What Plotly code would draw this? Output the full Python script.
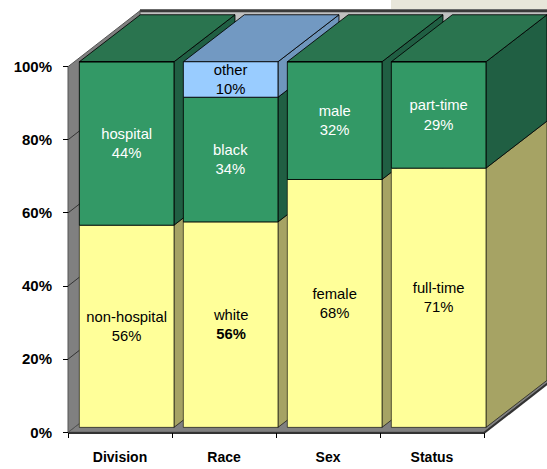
import plotly.graph_objects as go

# Data
categories = ["Division", "Race", "Sex", "Status"]
lower_values = [55.3, 56.2, 67.8, 70.9]
middle_values = [44.7, 34.1, 32.2, 29.1]
upper_values = [0, 9.7, 0, 0]
lower_labels = ["non-hospital<br>56%", "white<br><b>56%</b>", "female<br>68%", "full-time<br>71%"]
middle_labels = ["hospital<br>44%", "black<br>34%", "male<br>32%", "part-time<br>29%"]
upper_labels = ["", "other<br>10%", "", ""]
y_ticks = [0, 20, 40, 60, 80, 100]

W, H = 547, 469
X_PX, Y_PX = 104.0, 3.656
x_range = [-120 / X_PX, (W - 120) / X_PX]
y_range = [(432.3 - H) / Y_PX, 432.3 / Y_PX]

BAR_OFFSET, BAR_WIDTH = -0.391, 0.91
LIFT = 1.35               # front faces stand slightly above the axis baseline
DX, DY = 61 / X_PX, 47 / Y_PX     # bar depth
WX, WY = 72 / X_PX, 56 / Y_PX     # wall depth

LOWER_C, MIDDLE_C, UPPER_C = "#ffff99", "#339966", "#99ccff"
LOWER_S, MIDDLE_S, UPPER_S = "#a6a364", "#205f43", "#6f96bd"
MIDDLE_T, UPPER_T = "#2a744f", "#7299c2"
EDGE = "rgba(0,0,0,0.85)"
SOFT_EDGE = "rgba(0,0,0,0.6)"


def poly(points, fill, line=EDGE, width=1):
    path = "M" + "L".join(f"{x:.4f},{y:.4f}" for x, y in points) + "Z"
    return dict(type="path", path=path, xref="x", yref="y", layer="below",
                fillcolor=fill, line=dict(color=line, width=width))


shapes = [
    dict(type="rect", xref="paper", yref="paper", x0=391 / W, x1=1, y0=1 - 9 / H, y1=1,
         fillcolor="#e8e6da", line=dict(width=0), layer="below"),
]
L, R = -0.5, 3.5
# back wall
shapes.append(poly([(L + WX, WY), (R + WX, WY), (R + WX, 100 + WY), (L + WX, 100 + WY)],
                   "#c0c0c0", line="#c0c0c0"))
shapes.append(dict(type="line", xref="x", yref="y", layer="below", x0=L + WX, x1=R + WX,
                   y0=100 + WY, y1=100 + WY, line=dict(color="#3a3a3a", width=3)))
# floor
shapes.append(poly([(L, 0), (R, 0), (R + WX, WY), (L + WX, WY)], "#808080", line="#444444"))
shapes.append(dict(type="line", xref="x", yref="y", layer="below", x0=L, x1=R, y0=-0.2, y1=-0.2,
                   line=dict(color="#333333", width=2)))
shapes.append(dict(type="line", xref="x", yref="y", layer="below", x0=R, x1=R + WX, y0=-0.2, y1=WY - 0.2,
                   line=dict(color="#333333", width=2)))
# left wall with gridlines
shapes.append(poly([(L, 0), (L + WX, WY), (L + WX, 100 + WY), (L, 100)], "#808080", line="#555555"))
for t in y_ticks[1:-1]:
    shapes.append(dict(type="line", xref="x", yref="y", layer="below", x0=L, x1=L + WX,
                       y0=t, y1=t + WY, line=dict(color="#333333", width=1)))

# side and top faces of each column, left to right
for i in range(len(categories)):
    x0 = i + BAR_OFFSET
    x1 = x0 + BAR_WIDTH
    a = LIFT
    b = a + lower_values[i]
    c = b + middle_values[i]
    d = c + upper_values[i]
    for lo, hi, col, edge in [(a, b, LOWER_S, SOFT_EDGE), (b, c, MIDDLE_S, EDGE), (c, d, UPPER_S, EDGE)]:
        if hi > lo:
            shapes.append(poly([(x1, lo), (x1 + DX, lo + DY), (x1 + DX, hi + DY), (x1, hi)], col, line=edge))
    top = UPPER_T if upper_values[i] > 0 else MIDDLE_T
    shapes.append(poly([(x0, d), (x1, d), (x1 + DX, d + DY), (x0 + DX, d + DY)], top))

font = "Liberation Sans, Arial, sans-serif"
fig = go.Figure()
bases = [LIFT] * len(categories)
for vals, labs, col, tcol, edge in [
    (lower_values, lower_labels, LOWER_C, "#000000", SOFT_EDGE),
    (middle_values, middle_labels, MIDDLE_C, "#ffffff", EDGE),
    (upper_values, upper_labels, UPPER_C, "#000000", EDGE),
]:
    fig.add_trace(go.Bar(
        x=categories, y=vals, base=list(bases), text=labs,
        width=BAR_WIDTH, offset=BAR_OFFSET,
        marker=dict(color=col, line=dict(color=edge, width=1)),
        textposition="inside", insidetextanchor="middle", textangle=0,
        constraintext="none", cliponaxis=False,
        insidetextfont=dict(family=font, size=14.8, color=tcol),
        showlegend=False,
    ))
    bases = [b + v for b, v in zip(bases, vals)]

fig.update_layout(
    width=W, height=H, autosize=False, barmode="overlay",
    margin=dict(l=0, r=0, t=0, b=0, pad=0),
    paper_bgcolor="#ffffff", plot_bgcolor="rgba(0,0,0,0)",
    shapes=shapes, showlegend=False,
    xaxis=dict(
        type="category", categoryorder="array", categoryarray=categories,
        range=x_range, anchor="free", position=(H - 432.3) / H,
        tickson="boundaries", ticks="outside", ticklen=5, tickwidth=1, tickcolor="#000000",
        showgrid=False, zeroline=False, showline=False, ticklabelstandoff=15,
        tickfont=dict(family=font, size=14, color="#000000", weight="bold"),
    ),
    yaxis=dict(
        range=y_range, anchor="free", position=68 / W,
        tickmode="array", tickvals=y_ticks, ticktext=[f"{t}%" for t in y_ticks],
        ticks="outside", ticklen=5, tickwidth=1, tickcolor="#000000",
        showgrid=False, zeroline=False, showline=False, ticklabelstandoff=8,
        tickfont=dict(family=font, size=15, color="#000000", weight="bold"),
    ),
)
fig.write_html(
    "out.html", config={"displayModeBar": False},
    post_script="document.body.style.margin='0';document.documentElement.style.overflow='hidden';",
)
